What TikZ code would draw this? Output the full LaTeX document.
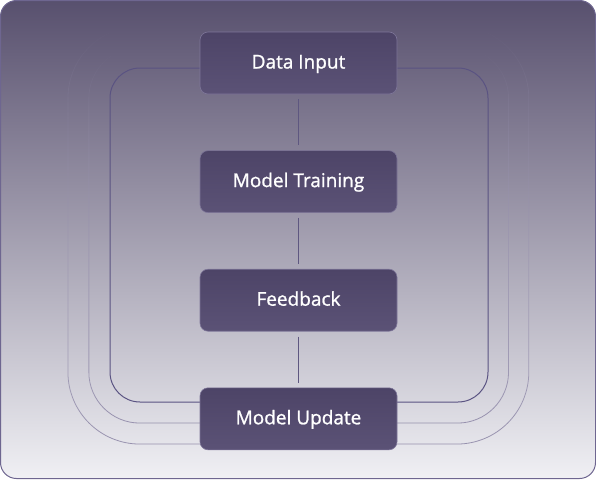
\documentclass[tikz,border=0pt]{standalone}
\usepackage{fontspec}
\setmainfont{Open Sans}
\newfontfamily\stagefont{Open Sans}[FakeBold=1.1]
\usepackage{xcolor}
\usetikzlibrary{positioning,fadings}

\definecolor{paneltop}{HTML}{58506E}
\definecolor{panelbot}{HTML}{F0F0F4}
\definecolor{panelline}{HTML}{6E6690}
\definecolor{boxtop}{HTML}{4D4467}
\definecolor{boxbot}{HTML}{5B5276}
\definecolor{boxline}{HTML}{7E7699}
\definecolor{linkcol}{HTML}{5E5780}
\definecolor{loopdark}{HTML}{5A5382}
\definecolor{looplight}{HTML}{9791AE}

\tikzfading[name=loopfade, top color=transparent!100, bottom color=transparent!0]

\begin{document}
\begin{tikzpicture}%
                    [x=1pt, y=-1pt,
                    panel/.style={rounded corners=16pt, top color=paneltop, bottom color=panelbot, draw=panelline, line width=1pt},
                    stage/.style={rectangle, rounded corners=8pt, minimum width=197pt, minimum height=62pt, inner sep=0pt,
                                  draw=boxline, line width=0.6pt, top color=boxtop, bottom color=boxbot,
                                  text=white, font=\stagefont\fontsize{19}{22}\selectfont, text height=14pt, text depth=3pt},
                    link/.style={draw=linkcol, line width=0.8pt, shorten <=5pt, shorten >=5pt},
                    loopin/.style={draw=loopdark, line width=1pt, rounded corners=30pt},
                    loopout/.style={draw=looplight, line width=0.8pt, path fading=loopfade}]

                %% Drawing the panel
                \useasboundingbox (0,0) rectangle (596,479);
                \path[panel] (0.5,0.5) rectangle (595.5,478.5);
                %% Drawing the loops
                \draw[loopout, rounded corners=72pt] (68,26) rectangle (529,444);
                \draw[loopout, rounded corners=51pt] (89,47) rectangle (509,423);
                \draw[loopin] (110,68) rectangle (488,402);
                %%
                %% Drawing the stages
                %%
                \node[stage] (input) at (298.5,63) {Data Input};
                \node[stage, below=56pt of input] (training) {Model Training};
                \node[stage, below=56pt of training] (feedback) {Feedback};
                \node[stage, below=56pt of feedback] (update) {Model Update};
                %%
                %% Drawing the links
                %%
                \draw[link] (input) -- (training);
                \draw[link] (training) -- (feedback);
                \draw[link] (feedback) -- (update);
                %%
                %%
\end{tikzpicture}
\end{document}
